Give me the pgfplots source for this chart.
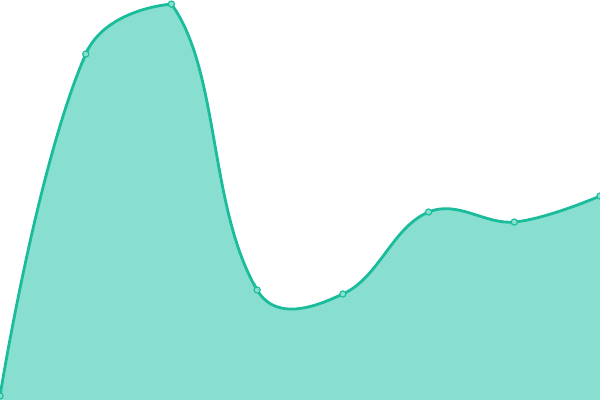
\documentclass[border=0pt]{standalone}
\usepackage{pgfplots}
\usepackage{pgfplotstable}
\pgfplotsset{compat=1.18}
\definecolor{tealline}{HTML}{1ABC9C}
\definecolor{tealfill}{HTML}{88DFCF}

\pgfplotstableread{
x y
0 4
1 346
2 396
3 110
4 106
5 188
6 178
7 204
}\series

% one unit in x is 15cm/7, one unit in y is 10cm/400
\pgfplotsset{
    win/.style={
        anchor=south west,
        x=2.142857cm, y=0.025cm,
        hide axis,
        ymin=0, ymax=400,
        clip=true,
    },
}

% each stretch of the curve gets its own tension, so it sits in its own window
% #1,#2 window in x; #3,#4 points used; #5 tension
\newcommand{\seg}[5]{%
\begin{axis}[win, at={(#1*2.142857cm,0)}, xmin=#1, xmax=#2]
\addplot[smooth, tension=#5, restrict x to domain=#3:#4,
    fill=tealfill, draw=tealfill, line width=1pt] table {\series} \closedcycle;
\addplot[smooth, tension=#5, restrict x to domain=#3:#4,
    color=tealline, line width=2pt, line cap=round] table {\series};
\end{axis}}

\begin{document}
\begin{tikzpicture}
\useasboundingbox (0,0) rectangle (15cm,10cm);
\seg{0}{1.02}{0}{2}{1.03}
\seg{0.98}{2.02}{0}{2}{0.42}
\seg{2}{3.02}{1}{4}{1.02}
\seg{2.98}{4.02}{2}{5}{0.43}
\seg{3.98}{5.02}{3}{6}{0.77}
\seg{4.98}{6.02}{4}{7}{0.61}
\seg{5.98}{7}{5}{7}{0.68}
\begin{axis}[win, at={(0,0)}, xmin=0, xmax=7, clip marker paths=true]
\addplot[only marks, mark=*, mark size=2.2pt,
    mark options={fill=tealfill, draw=tealline, line width=0.8pt}]
    table {\series};
\end{axis}
\end{tikzpicture}
\end{document}
